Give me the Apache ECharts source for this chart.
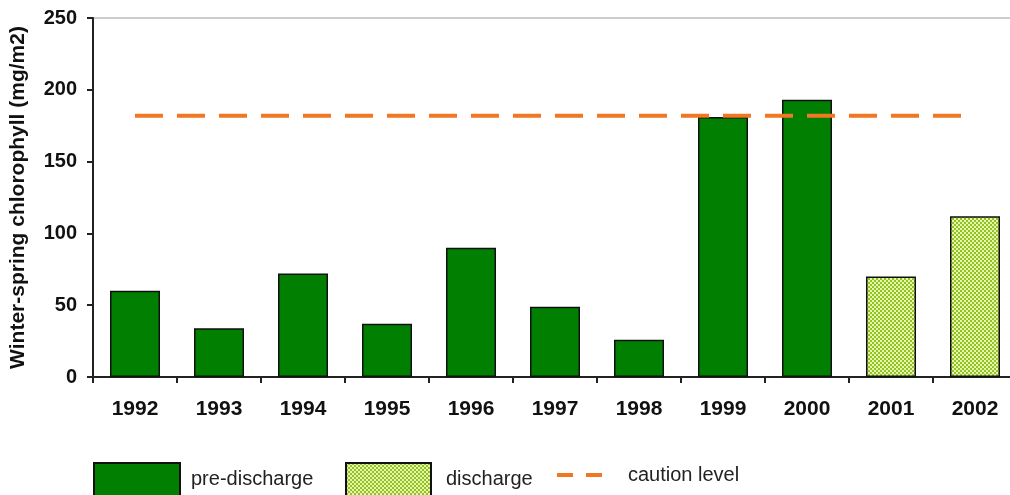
<!DOCTYPE html>
<html>
<head>
<meta charset="utf-8">
<title>Winter-spring chlorophyll</title>
<script src="https://cdn.jsdelivr.net/npm/echarts@6/dist/echarts.min.js"></script>
<style>
  html, body { margin: 0; padding: 0; background: #fff; }
  #chart { width: 1010px; height: 495px; }
</style>
</head>
<body>
<div id="chart"></div>
<script>
// data
var years = ['1992', '1993', '1994', '1995', '1996', '1997', '1998', '1999', '2000', '2001', '2002'];
var preDischarge = [60, 34, 72, 37, 90, 49, 26, 181, 193, '-', '-'];
var discharge = ['-', '-', '-', '-', '-', '-', '-', '-', '-', 70, 112];
var cautionLevel = 182;
var cautionLine = years.map(function () { return cautionLevel; });

// small checker pattern for the discharge bars
function checker() {
  var c = document.createElement('canvas');
  c.width = 4;
  c.height = 4;
  var ctx = c.getContext('2d');
  ctx.fillStyle = '#8fc424';
  ctx.fillRect(0, 0, 4, 4);
  ctx.fillStyle = '#e8f3ac';
  ctx.fillRect(0, 0, 2, 2);
  ctx.fillRect(2, 2, 2, 2);
  return c;
}

var font = 'Liberation Sans, Arial, sans-serif';
var axisColor = '#222';
var orange = '#f07822';

var myChart = echarts.init(document.getElementById('chart'));
myChart.setOption({
  animation: false,
  textStyle: { fontFamily: font },
  grid: {
    left: 93,
    top: 18,
    width: 924,
    height: 359,
    outerBoundsMode: 'none',
    containLabel: false,
    show: true,
    borderColor: '#999',
    borderWidth: 1,
    backgroundColor: 'transparent'
  },
  legend: [{
    data: [{ name: 'pre-discharge', icon: 'rect' }],
    left: 93, top: 462, padding: 0,
    itemWidth: 86, itemHeight: 33,
    textStyle: { fontSize: 20, color: '#222', padding: [0, 0, 0, 6] }
  }, {
    data: [{ name: 'discharge', icon: 'rect' }],
    left: 345, top: 462, padding: 0,
    itemWidth: 85, itemHeight: 33,
    textStyle: { fontSize: 20, color: '#222', padding: [0, 0, 0, 10] }
  }, {
    data: [{ name: 'caution level', icon: 'path://M0,0h16v4h-16zM29,0h16v4h-16z' }],
    left: 557, top: 465, padding: 0,
    itemWidth: 45, itemHeight: 4,
    itemStyle: { color: orange, borderWidth: 0 },
    textStyle: { fontSize: 20, color: '#222', padding: [0, 0, 0, 21] }
  }],
  xAxis: {
    type: 'category',
    data: years,
    axisLine: { lineStyle: { color: axisColor, width: 2 } },
    axisTick: { show: true, length: 6, lineStyle: { color: axisColor, width: 2 } },
    axisLabel: { fontSize: 21, fontWeight: 'bold', color: '#111', margin: 22 }
  },
  yAxis: {
    type: 'value',
    min: 0,
    max: 250,
    interval: 50,
    name: 'Winter-spring chlorophyll (mg/m2)',
    nameLocation: 'middle',
    nameGap: 64,
    nameTextStyle: { fontSize: 21, fontWeight: 'bold', color: '#111' },
    axisLine: { show: true, lineStyle: { color: axisColor, width: 2 } },
    axisTick: { show: true, length: 6, lineStyle: { color: axisColor, width: 2 } },
    axisLabel: { fontSize: 20, fontWeight: 'bold', color: '#111', margin: 16 },
    splitLine: { show: false }
  },
  series: [{
    name: 'pre-discharge',
    type: 'bar',
    data: preDischarge,
    barWidth: 50,
    barGap: '-100%',
    itemStyle: { color: '#007f00', borderColor: '#111', borderWidth: 1.5 }
  }, {
    name: 'discharge',
    type: 'bar',
    data: discharge,
    barWidth: 50,
    itemStyle: {
      color: { image: checker(), repeat: 'repeat' },
      borderColor: '#111',
      borderWidth: 1.5
    }
  }, {
    name: 'caution level',
    type: 'line',
    data: cautionLine,
    symbol: 'none',
    z: 5,
    lineStyle: { color: orange, width: 4, type: [28, 14] },
    itemStyle: { color: orange }
  }]
});
</script>
</body>
</html>
